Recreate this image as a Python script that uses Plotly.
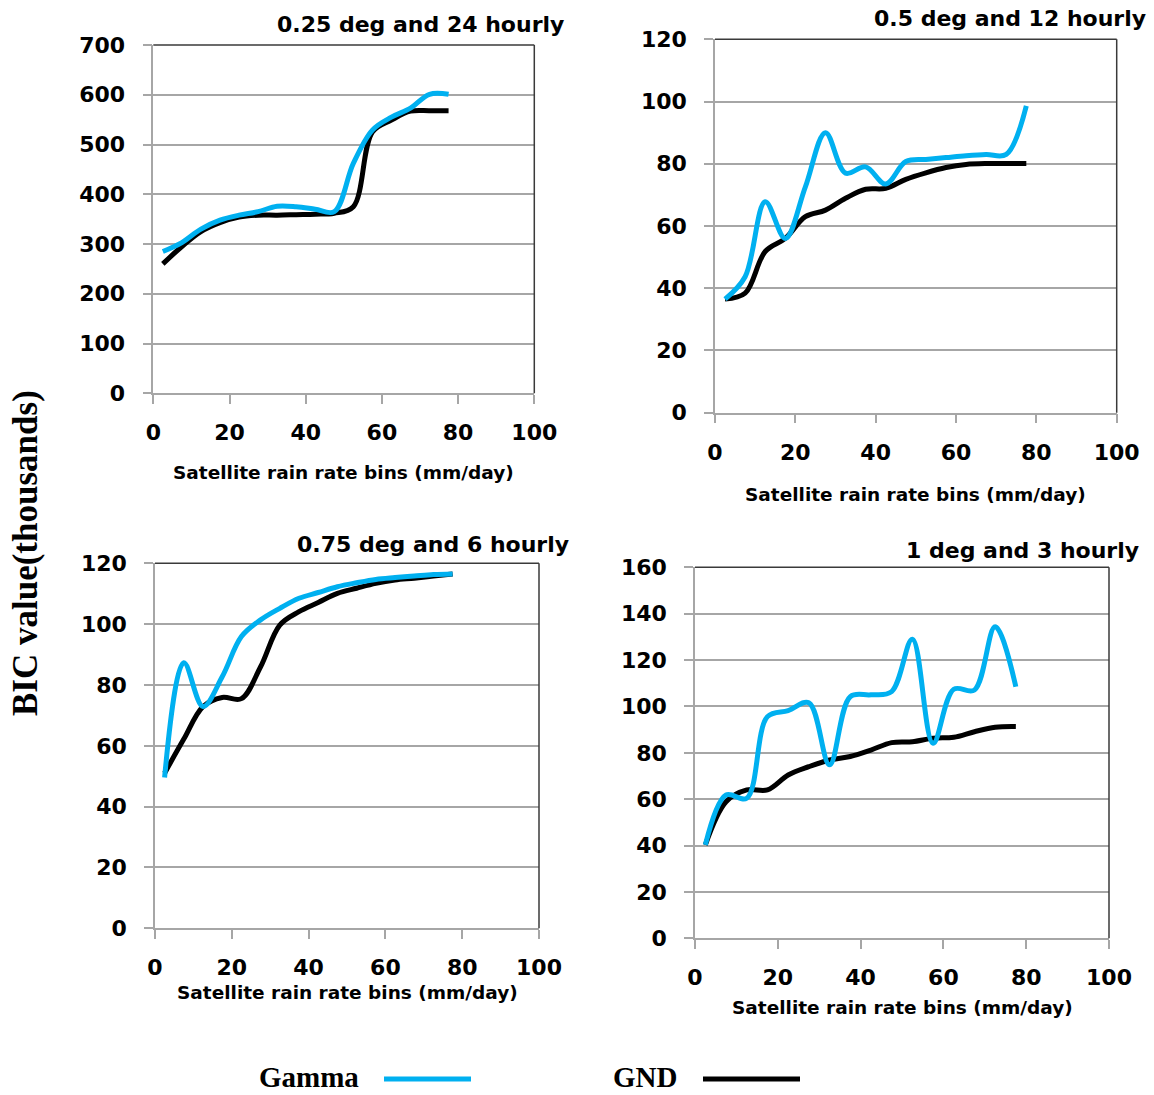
import plotly.graph_objects as go

# Rain-rate bin centres (mm/day)
bins = [2.5, 7.5, 12.5, 17.5, 22.5, 27.5, 32.5, 37.5,
        42.5, 47.5, 52.5, 57.5, 62.5, 67.5, 72.5, 77.5]

# BIC values (thousands) per configuration
gamma_025_24h = [285, 303, 330, 348, 358, 365, 376, 375, 370, 365, 462, 529, 555, 573, 601, 601]
gnd_025_24h = [260, 295, 325, 343, 354, 358, 358, 359, 360, 362, 375, 525, 549, 567, 568, 568]

gamma_05_12h = [36.5, 43.7, 67.8, 56, 72.6, 90, 77, 79, 73.5, 80.7, 81.4, 82, 82.6, 83, 83, 98.6]
gnd_05_12h = [36.5, 38.4, 51.8, 56, 63, 65.1, 68.9, 71.8, 72.1, 75, 77.1, 78.8, 79.8, 80.1, 80.1, 80.1]

gamma_075_6h = [49.6, 87.3, 72.9, 82.7, 95.9, 101.4, 105.2, 108.5, 110.4, 112.3, 113.6, 114.7, 115.3, 115.8, 116.3, 116.5]
gnd_075_6h = [51, 62.2, 72.9, 75.9, 75.5, 86, 99.7, 104.1, 107.1, 110.1, 111.8, 113.4, 114.5, 115.1, 115.8, 116.5]

gamma_1_3h = [40.3, 61.8, 60.4, 95.6, 98.2, 101.6, 74.8, 104.2, 105, 106.4, 129, 84.1, 107.4, 107.1, 134.4, 108.5]
gnd_1_3h = [40.3, 58.9, 64, 64, 70.4, 74, 76.9, 78.4, 81.2, 84.4, 84.8, 86.3, 86.7, 89.1, 91, 91.3]

titles = ["0.25 deg and 24 hourly", "0.5 deg and 12 hourly",
          "0.75 deg and 6 hourly", "1 deg and 3 hourly"]
y_max = [700, 120, 120, 160]
y_step = [100, 20, 20, 20]
x_ticks = [0, 20, 40, 60, 80, 100]

W, H = 1154, 1095
BLUE = "#00B0F0"
GRID = "#a6a6a6"
BORDER = "#3a3a3a"
SANS = "DejaVu Sans"
SERIF = "Liberation Serif"


def px(x):
    return x / W


def py(y):
    return 1 - y / H


# Plot boxes in pixels: left, right, top, bottom
boxes = [(153.3, 534.3, 45, 393.3),
         (715, 1116.7, 39.3, 412.7),
         (155, 539, 563.3, 928.3),
         (695, 1109, 567.3, 938.3)]
# Title anchor (right edge, centre y) and x-axis title centre y
title_pos = [(566, 25), (1148, 18), (571, 544), (1141, 550)]
xtitle_y = [473, 494, 992, 1007]

series = [(gamma_025_24h, gnd_025_24h), (gamma_05_12h, gnd_05_12h),
          (gamma_075_6h, gnd_075_6h), (gamma_1_3h, gnd_1_3h)]

fig = go.Figure()
layout = dict(width=W, height=H, margin=dict(l=0, r=0, t=0, b=0, pad=0),
              autosize=False,
              paper_bgcolor="white", plot_bgcolor="white", showlegend=False)
annotations = []
shapes = []

for i, ((l, r, t, b), (gam, gnd)) in enumerate(zip(boxes, series)):
    n = "" if i == 0 else str(i + 1)
    xa, ya = "x" + n, "y" + n
    fig.add_trace(go.Scatter(x=bins, y=gnd, mode="lines", xaxis=xa, yaxis=ya,
                             line=dict(color="black", width=5, shape="spline", smoothing=1)))
    fig.add_trace(go.Scatter(x=bins, y=gam, mode="lines", xaxis=xa, yaxis=ya,
                             line=dict(color=BLUE, width=5, shape="spline", smoothing=1)))
    tickfont = dict(family=SANS, size=22, color="black", weight="bold")
    layout["xaxis" + n] = dict(
        domain=[px(l), px(r)], anchor=ya, range=[0, 100], tickvals=x_ticks,
        automargin=False,
        showgrid=False, zeroline=False, showline=True, linecolor=GRID, linewidth=1.5,
        ticks="outside", ticklen=9, tickwidth=1.5, tickcolor=GRID,
        tickfont=tickfont, ticklabelstandoff=10)
    layout["yaxis" + n] = dict(
        domain=[py(b), py(t)], anchor=xa, range=[0, y_max[i]], dtick=y_step[i],
        automargin=False,
        showgrid=True, gridcolor=GRID, gridwidth=1.5, zeroline=False,
        showline=True, linecolor=GRID, linewidth=1.5,
        ticks="outside", ticklen=9, tickwidth=1.5, tickcolor=GRID,
        tickfont=tickfont, ticklabelstandoff=13)
    # top and right plot-area border
    shapes.append(dict(type="line", xref="paper", yref="paper", x0=px(l), x1=px(r),
                       y0=py(t), y1=py(t), line=dict(color=BORDER, width=1.5)))
    shapes.append(dict(type="line", xref="paper", yref="paper", x0=px(r), x1=px(r),
                       y0=py(t), y1=py(b), line=dict(color=BORDER, width=1.5)))
    tx, ty = title_pos[i]
    annotations.append(dict(text=titles[i], xref="paper", yref="paper", x=px(tx), y=py(ty),
                            xanchor="right", yanchor="middle", showarrow=False,
                            font=dict(family=SANS, size=22, color="black", weight="bold")))
    annotations.append(dict(text="Satellite rain rate bins (mm/day)", xref="paper", yref="paper",
                            x=px((l + r) / 2), y=py(xtitle_y[i]), xanchor="center",
                            yanchor="middle", showarrow=False,
                            font=dict(family=SANS, size=18.5, color="black", weight="bold")))

# Shared y-axis title
annotations.append(dict(text="BIC value(thousands)", xref="paper", yref="paper",
                        x=px(25), y=py(553), textangle=-90, showarrow=False,
                        xanchor="center", yanchor="middle",
                        font=dict(family=SERIF, size=35, color="black", weight="bold")))

# Legend
annotations.append(dict(text="Gamma", xref="paper", yref="paper", x=px(360), y=py(1077),
                        xanchor="right", yanchor="middle", showarrow=False, borderpad=0,
                        font=dict(family=SERIF, size=29, color="black", weight="bold")))
annotations.append(dict(text="GND", xref="paper", yref="paper", x=px(678), y=py(1077),
                        xanchor="right", yanchor="middle", showarrow=False, borderpad=0,
                        font=dict(family=SERIF, size=29, color="black", weight="bold")))
shapes.append(dict(type="line", xref="paper", yref="paper", x0=px(384), x1=px(471),
                   y0=py(1079), y1=py(1079), line=dict(color=BLUE, width=5)))
shapes.append(dict(type="line", xref="paper", yref="paper", x0=px(703), x1=px(800),
                   y0=py(1079), y1=py(1079), line=dict(color="black", width=5)))

layout["annotations"] = annotations
layout["shapes"] = shapes
fig.update_layout(**layout)
fig.write_html("out.html")
